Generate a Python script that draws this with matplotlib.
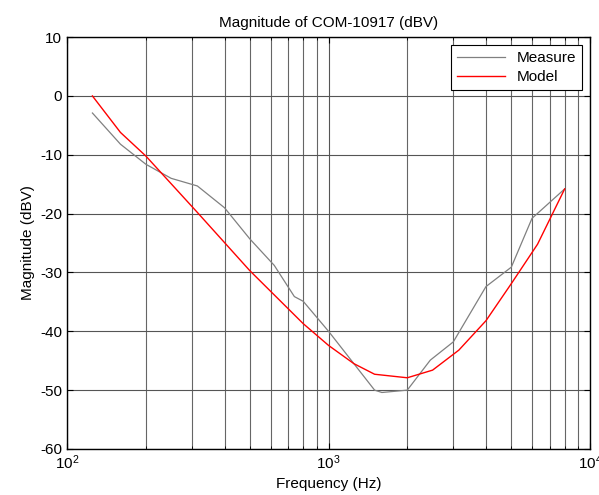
import matplotlib
matplotlib.use("Agg")
import matplotlib.pyplot as plt
from matplotlib.ticker import LogLocator, NullFormatter

plt.rcParams["font.family"] = ["Liberation Sans", "DejaVu Sans"]
plt.rcParams["font.size"] = 11
plt.rcParams["axes.unicode_minus"] = False
plt.rcParams["mathtext.fontset"] = "custom"
plt.rcParams["mathtext.rm"] = "Liberation Sans"
plt.rcParams["mathtext.it"] = "Liberation Sans"

# measured response (gray)
meas_f = [125, 160, 200, 250, 315, 400, 500, 620, 740, 800, 1000, 1500, 1600, 2000, 2450, 3000, 4000, 5000, 6000, 8000]
meas_db = [-2.9, -8.2, -11.6, -14.0, -15.3, -19.0, -24.3, -28.8, -34.1, -34.9, -40.0, -50.0, -50.4, -50.0, -44.9, -41.8, -32.4, -29.1, -20.8, -15.8]

# model response (red)
model_f = [125, 160, 200, 315, 500, 800, 1000, 1250, 1500, 2000, 2500, 3150, 4000, 5000, 6300, 8000]
model_db = [0.0, -6.2, -10.2, -19.8, -29.7, -38.7, -42.4, -45.5, -47.3, -47.9, -46.6, -43.2, -38.2, -31.9, -25.2, -15.8]

fig = plt.figure(figsize=(5.99, 4.95), dpi=100)
ax = fig.add_axes([0.112, 0.093, 0.873, 0.832])

ax.plot(meas_f, meas_db, color="#808080", lw=0.9, label="Measure")
ax.plot(model_f, model_db, color="#ff0000", lw=1.0, label="Model")

ax.set_xscale("log")
ax.set_xlim(100, 10000)
ax.set_ylim(-60, 10)
ax.set_yticks(range(-60, 11, 10))
ax.xaxis.set_minor_locator(LogLocator(base=10, subs=range(2, 10)))
ax.xaxis.set_minor_formatter(NullFormatter())

ax.grid(True, which="major", color="#555555", lw=0.8)
ax.grid(True, which="minor", axis="x", color="#666666", lw=0.8)
ax.set_axisbelow(True)

ax.tick_params(which="both", direction="in", top=True, right=True, labelsize=11)
ax.tick_params(which="major", length=4)
ax.tick_params(which="minor", length=2)
for s in ax.spines.values():
    s.set_linewidth(1.0)

ax.set_title("Magnitude of COM-10917 (dBV)", fontsize=11, pad=7)
ax.set_xlabel("Frequency (Hz)", fontsize=11, labelpad=3)
ax.set_ylabel("Magnitude (dBV)", fontsize=11, labelpad=4)

leg = ax.legend(loc="upper right", fontsize=11, fancybox=False, framealpha=1,
                edgecolor="black", borderaxespad=0.5, handlelength=3.1,
                borderpad=0.4, labelspacing=0.35)
leg.get_frame().set_linewidth(0.8)

plt.savefig("out.png", dpi=100)
